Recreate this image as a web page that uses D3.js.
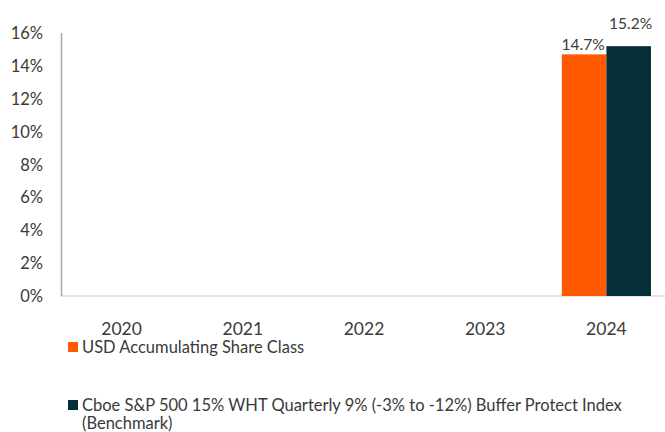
<!DOCTYPE html>
<html>
<head>
<meta charset="utf-8">
<script src="https://cdn.jsdelivr.net/npm/d3@7"></script>
<style>
  body { margin: 0; background: #fff; }
  text { font-family: "Lato", "Open Sans", sans-serif; fill: #3a3a3a; }
</style>
</head>
<body>
<div id="chart"></div>
<script>
// Data
var years = ["2020", "2021", "2022", "2023", "2024"];
var seriesNames = ["USD Accumulating Share Class",
                   "Cboe S&P 500 15% WHT Quarterly 9% (-3% to -12%) Buffer Protect Index (Benchmark)"];
var shareClassValues = [null, null, null, null, 14.7];
var benchmarkValues = [null, null, null, null, 15.2];
var yTicks = [0, 2, 4, 6, 8, 10, 12, 14, 16];

var colors = ["#ff5a00", "#042f38"];

var width = 665,
    height = 432;

var svg = d3.select("#chart").append("svg")
    .attr("width", width)
    .attr("height", height);

// Scales
var x0 = d3.scaleBand()
    .domain(years)
    .range([61, 667])
    .paddingInner(0.265)
    .paddingOuter(0.1325);

var x1 = d3.scaleBand()
    .domain([0, 1])
    .range([0, x0.bandwidth()]);

var y = d3.scaleLinear()
    .domain([0, 16])
    .range([296, 33]);

// Y axis labels
svg.selectAll(".y-label")
    .data(yTicks)
  .enter().append("text")
    .attr("class", "y-label")
    .attr("x", 43)
    .attr("y", function(d) { return y(d) + 6; })
    .attr("text-anchor", "end")
    .style("font-size", "16.5px")
    .text(function(d) { return d + "%"; });

// baseline
svg.append("line")
    .attr("x1", 61).attr("x2", 665)
    .attr("y1", y(0)).attr("y2", y(0))
    .attr("stroke", "#d9d9d9")
    .attr("stroke-width", 1.5);

// y axis line
svg.append("line")
    .attr("x1", 61.5).attr("x2", 61.5)
    .attr("y1", y(16)).attr("y2", y(0))
    .attr("stroke", "#a6a6a6")
    .attr("stroke-width", 1.5);

// Bars
var rows = years.map(function(yr, i) {
  return {year: yr, values: [shareClassValues[i], benchmarkValues[i]]};
});

var groups = svg.selectAll(".group")
    .data(rows)
  .enter().append("g")
    .attr("class", "group")
    .attr("transform", function(d) { return "translate(" + x0(d.year) + ",0)"; });

var labelOffsets = [4, 17];

groups.selectAll("rect")
    .data(function(d) { return d.values.map(function(v, k) { return {k: k, v: v}; }); })
  .enter().filter(function(d) { return d.v != null; }).append("rect")
    .attr("x", function(d) { return x1(d.k); })
    .attr("width", x1.bandwidth())
    .attr("y", function(d) { return y(d.v); })
    .attr("height", function(d) { return y(0) - y(d.v); })
    .attr("fill", function(d) { return colors[d.k]; });

groups.selectAll(".value-label")
    .data(function(d) { return d.values.map(function(v, k) { return {k: k, v: v}; }); })
  .enter().filter(function(d) { return d.v != null; }).append("text")
    .attr("class", "value-label")
    .attr("x", function(d) { return x1(d.k) + x1.bandwidth() / 2 + (d.k == 1 ? 2 : -1); })
    .attr("y", function(d) { return y(d.v) - labelOffsets[d.k]; })
    .attr("text-anchor", "middle")
    .style("font-size", "15.5px")
    .text(function(d) { return d.v.toFixed(1) + "%"; });

// X labels
svg.selectAll(".x-label")
    .data(years)
  .enter().append("text")
    .attr("class", "x-label")
    .attr("x", function(d) { return x0(d) + x0.bandwidth() / 2; })
    .attr("y", 335)
    .attr("text-anchor", "middle")
    .style("font-size", "17.5px")
    .text(function(d) { return d; });

// Legend
var legendY = [342, 400];
seriesNames.forEach(function(name, k) {
  svg.append("rect")
      .attr("x", 68)
      .attr("y", legendY[k])
      .attr("width", 10)
      .attr("height", 10)
      .attr("fill", colors[k]);
});

svg.append("text")
    .attr("x", 82)
    .attr("y", 353)
    .style("font-size", "16.5px")
    .text(seriesNames[0]);

// second legend entry wraps onto two lines
var words = seriesNames[1].split(" ");
var legendLines = [words.slice(0, words.length - 1).join(" "), words[words.length - 1]];
svg.selectAll(".legend-line")
    .data(legendLines)
  .enter().append("text")
    .attr("class", "legend-line")
    .attr("x", 82)
    .attr("y", function(d, i) { return 411 + i * 18; })
    .style("font-size", "16.5px")
    .text(function(d) { return d; });
</script>
</body>
</html>
